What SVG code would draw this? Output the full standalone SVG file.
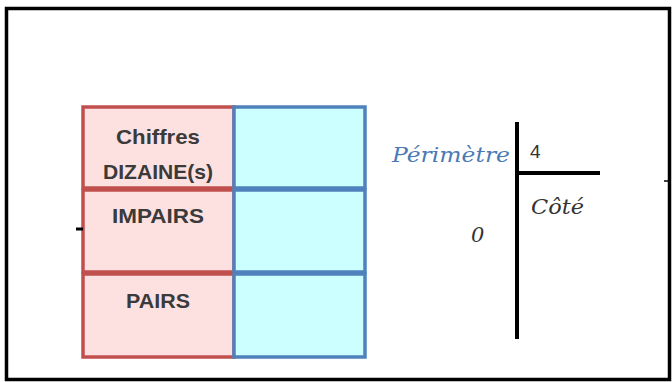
<svg xmlns="http://www.w3.org/2000/svg" width="672" height="382" viewBox="0 0 672 382">
<style>
.red{fill:#fde1e1;stroke:#c0504d;stroke-width:3.5}
.blue{fill:#ccffff;stroke:#4f81bd;stroke-width:3.5}
.lbl{font-family:"Liberation Sans",Arial,sans-serif;font-weight:bold;font-size:21px;fill:#3a3a3a;text-anchor:middle}
.ln{stroke:#000;stroke-width:4;fill:none}
.hand{font-family:"DejaVu Serif","Liberation Serif",serif;font-style:italic;font-size:21px}
</style>
<rect x="6.5" y="8.5" width="663" height="371" fill="#fff" stroke="#000" stroke-width="3.5"/>
<g id="row1">
<rect class="red" x="83" y="107" width="151" height="81"/>
<rect class="blue" x="234" y="107" width="131" height="81"/>
<text class="lbl" x="158" y="144" textLength="84" lengthAdjust="spacingAndGlyphs">Chiffres</text>
<text class="lbl" x="158" y="179" textLength="110" lengthAdjust="spacingAndGlyphs">DIZAINE(s)</text>
</g>
<g id="row2">
<rect class="red" x="83" y="190" width="151" height="82"/>
<rect class="blue" x="234" y="190" width="131" height="82"/>
<text class="lbl" x="158" y="223" textLength="92" lengthAdjust="spacingAndGlyphs">IMPAIRS</text>
</g>
<g id="row3">
<rect class="red" x="83" y="274" width="151" height="83"/>
<rect class="blue" x="234" y="274" width="131" height="83"/>
<text class="lbl" x="158" y="308" textLength="64" lengthAdjust="spacingAndGlyphs">PAIRS</text>
</g>
<g id="division">
<line class="ln" x1="517" y1="122" x2="517" y2="339"/>
<line class="ln" x1="517" y1="173" x2="600" y2="173"/>
<text class="hand" x="392" y="162" fill="#4a7ab5" textLength="118" lengthAdjust="spacingAndGlyphs">Périmètre</text>
<text x="530" y="158" font-family="Liberation Sans,Arial,sans-serif" font-size="19" fill="#333">4</text>
<text class="hand" x="531" y="214" fill="#333" textLength="53" lengthAdjust="spacingAndGlyphs">Côté</text>
<text class="hand" x="471" y="242" fill="#333">0</text>
</g>
<g id="connectors">
<line x1="76" y1="229" x2="83" y2="229" stroke="#000" stroke-width="3"/>
<line x1="664" y1="181" x2="670" y2="181" stroke="#000" stroke-width="1.5"/>
</g>
</svg>
